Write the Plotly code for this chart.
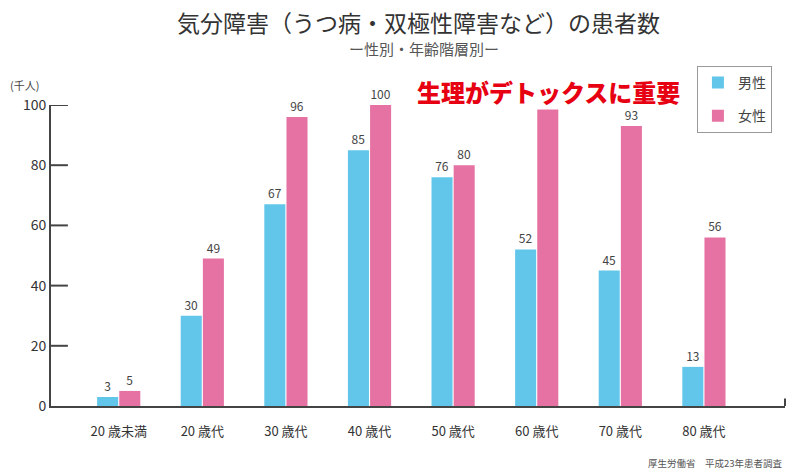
import plotly.graph_objects as go

# 年齢階層
categories = ["20 歳未満", "20 歳代", "30 歳代", "40 歳代", "50 歳代", "60 歳代", "70 歳代", "80 歳代"]
# 患者数（千人）
male = [3, 30, 67, 85, 76, 52, 45, 13]
female = [5, 49, 96, 100, 80, 99, 93, 56]
y_ticks = [0, 20, 40, 60, 80, 100]

font_jp = "Noto Sans CJK JP"
blue = "#62c6ea"
pink = "#e672a3"
axis_color = "#444"

fig = go.Figure()
fig.add_trace(go.Bar(
    x=categories, y=male, name="男性", legendgroup="m",
    marker=dict(color=blue, line=dict(width=0)),
    text=male, textposition="outside", cliponaxis=False,
    textfont=dict(size=12, color="#444"),
))
fig.add_trace(go.Bar(
    x=categories, y=female, name="女性", legendgroup="f",
    marker=dict(color=pink, line=dict(width=0)),
    text=female, textposition="outside", cliponaxis=False,
    textfont=dict(size=12, color="#444"),
))

fig.update_layout(
    width=796, height=472,
    margin=dict(l=51, r=11, t=105, b=66, autoexpand=False),
    paper_bgcolor="white", plot_bgcolor="white",
    font=dict(family=font_jp, color="#333"),
    barmode="group", bargap=0.47, bargroupgap=0.05,
    showlegend=True,
    legend=dict(
        x=0.88, y=1.13, xanchor="left", yanchor="top",
        bordercolor="#999", borderwidth=1, bgcolor="white",
        font=dict(size=14, color="#444"),
        itemsizing="constant", traceorder="grouped", tracegroupgap=12,
        entrywidth=55,
    ),
)

fig.update_xaxes(
    range=[-0.81, 7.97], automargin=False,
    showline=True, linecolor=axis_color, linewidth=2,
    ticks="", showgrid=False,
    tickfont=dict(size=13, color="#333"),
    ticklabelstandoff=12,
)
fig.update_yaxes(
    range=[0, 100], tickvals=y_ticks, automargin=False,
    showline=True, linecolor=axis_color, linewidth=2,
    ticks="", showgrid=False, zeroline=False,
    tickfont=dict(size=14, color="#333"),
    ticksuffix="\u00a0\u00a0\u00a0",
)

# y軸の内向き目盛り
for v in y_ticks[1:]:
    fig.add_shape(
        type="line", xref="paper", yref="y",
        x0=0, x1=0.023, y0=v, y1=v,
        line=dict(color=axis_color, width=2),
    )

# x軸右端の小さな目盛り
fig.add_shape(
    type="line", xref="paper", yref="paper",
    x0=1, x1=1, y0=0, y1=0.025,
    line=dict(color=axis_color, width=2),
)

# タイトル・注記
fig.add_annotation(
    text="気分障害（うつ病・双極性障害など）の患者数",
    xref="paper", yref="paper", x=0.5, y=1.276, yanchor="middle",
    showarrow=False, font=dict(size=23, color="#333"),
)
fig.add_annotation(
    text="ー性別・年齢階層別ー",
    xref="paper", yref="paper", x=0.508, y=1.189, yanchor="middle",
    showarrow=False, font=dict(size=15, color="#555"),
)
fig.add_annotation(
    text="(千人)",
    xref="paper", yref="paper", x=-0.058, y=1.066, xanchor="left", yanchor="middle",
    showarrow=False, font=dict(size=11, color="#444"),
)
fig.add_annotation(
    text="生理がデトックスに重要",
    xref="paper", yref="paper", x=0.497, y=1.045, xanchor="left", yanchor="middle",
    showarrow=False, bgcolor="white", borderpad=0,
    font=dict(size=24, color="#e60012", weight=900),
)
fig.add_annotation(
    text="厚生労働省　平成23年患者調査",
    xref="paper", yref="paper", x=1.0, y=-0.19, xanchor="right", yanchor="middle",
    showarrow=False, font=dict(size=9.5, color="#555"),
)

fig.write_html(
    "out.html",
    config={"displayModeBar": False},
    post_script="document.body.style.margin='0';",
)
